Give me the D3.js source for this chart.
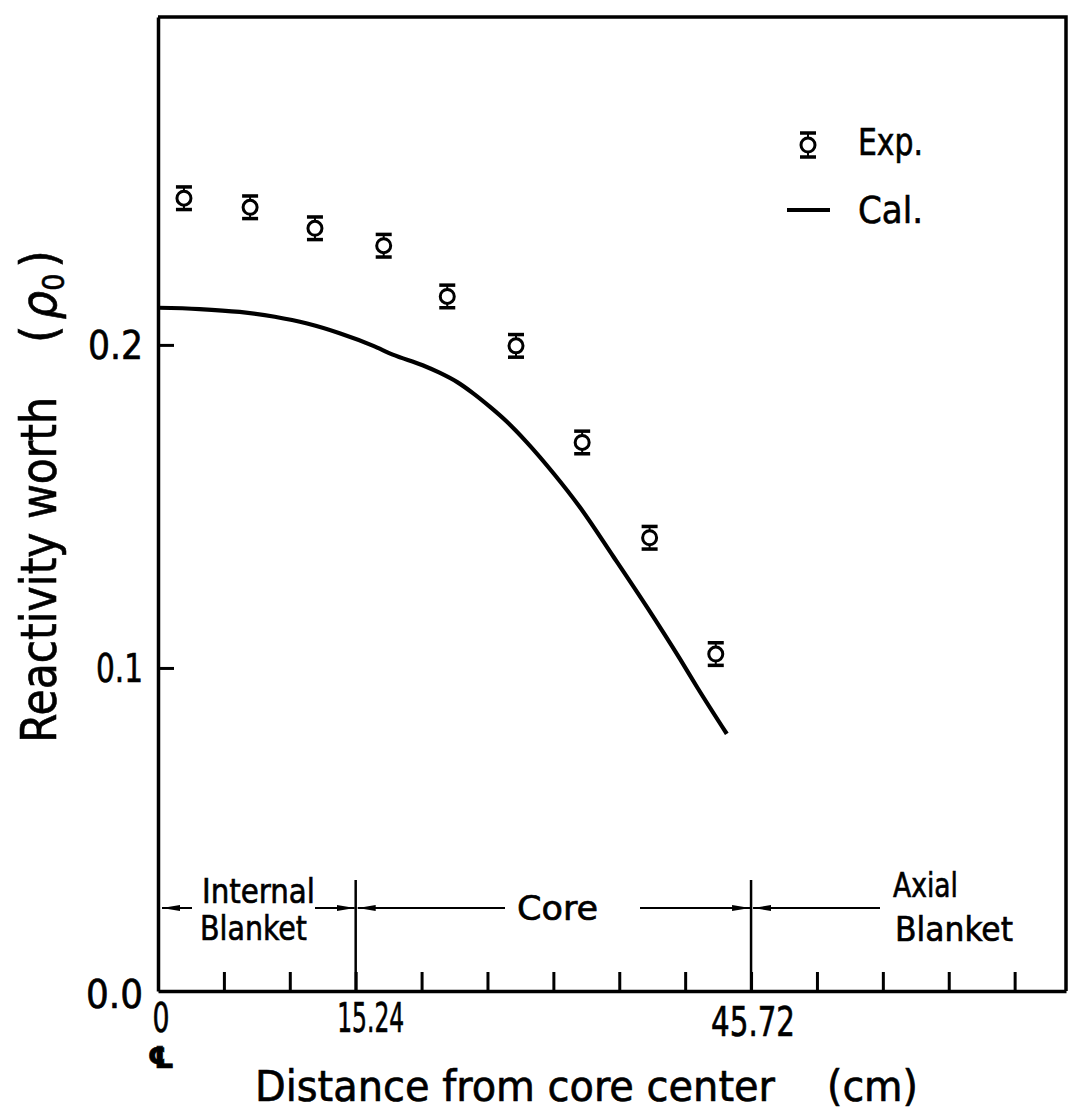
<!DOCTYPE html>
<html>
<head>
<meta charset="utf-8">
<script src="https://cdn.jsdelivr.net/npm/d3@7"></script>
<style>
  html, body { margin: 0; padding: 0; background: #fff; }
  svg { display: block; }
  text { font-family: "Liberation Sans Narrow", "DejaVu Sans Condensed", "Liberation Sans", sans-serif; fill: #000; stroke: #000; stroke-width: 0.6px; }
</style>
</head>
<body>
<script>
// Measured reactivity worth (Exp.) with error bars
const expX   = [2.0, 7.1, 12.1, 17.4, 22.3, 27.6, 32.7, 37.9, 43.0];
const expY   = [0.2454, 0.2426, 0.2361, 0.2307, 0.2150, 0.1997, 0.1698, 0.1403, 0.1043];
const expErr = [0.0035, 0.0035, 0.0035, 0.0035, 0.0035, 0.0035, 0.0035, 0.0035, 0.0035];

// Calculated reactivity worth (Cal.)
const calX = [0, 3.2, 6.3, 9.0, 11.5, 14.0, 16.6, 18.1, 20.4, 21.7, 23.1, 24.3, 25.6, 26.9, 28.4, 30.5, 32.5, 35.1, 37.7, 40.25, 41.6, 43.85];
const calY = [0.2115, 0.2111, 0.2102, 0.2087, 0.2066, 0.2036, 0.1997, 0.1970, 0.1937, 0.1914, 0.1884, 0.1850, 0.1808, 0.1762, 0.1700, 0.1602, 0.1499, 0.1345, 0.1188, 0.1027, 0.0938, 0.0796];

// Axis ticks and labels
const xMinorTicks = d3.range(0, 68, 5.08);
const xLabelValues = [0, 15.24, 45.72];
const xLabels = ["0", "15.24", "45.72"];
const yTickValues = [0.1, 0.2];
const yLabelValues = [0.0, 0.1, 0.2];
const yLabels = ["0.0", "0.1", "0.2"];

// Region boundaries along the axis
const regionBounds = [0, 15.24, 45.72];

const W = 1070, H = 1112;
const svg = d3.select("body").append("svg").attr("width", W).attr("height", H);

const x = d3.scaleLinear().domain([0, 70]).range([158, 1066]);
const y = d3.scaleLinear().domain([0, 0.3015]).range([991, 17]);

const ink = "#000";

// Frame: top and right edges
svg.append("path")
  .attr("d", `M${x(0)},${y(0.3015)} H${x(70)} V${y(0)}`)
  .attr("fill", "none").attr("stroke", ink).attr("stroke-width", 3.5);

// Bottom axis with inward minor ticks
const gx = svg.append("g").attr("transform", `translate(0,${y(0)})`)
  .call(d3.axisBottom(x).tickValues(xMinorTicks).tickSize(-19).tickSizeOuter(0).tickFormat(""));
gx.select(".domain").attr("stroke", ink).attr("stroke-width", 3.5);
gx.selectAll(".tick line").attr("stroke", ink).attr("stroke-width", 3);

// Left axis with inward ticks
const gy = svg.append("g").attr("transform", `translate(${x(0)},0)`)
  .call(d3.axisLeft(y).tickValues(yTickValues).tickSize(-16).tickSizeOuter(0).tickFormat(""));
gy.select(".domain").attr("stroke", ink).attr("stroke-width", 3.5);
gy.selectAll(".tick line").attr("stroke", ink).attr("stroke-width", 3);

// Y tick labels
const yLabLen = {"0.0": 57, "0.1": 47, "0.2": 55};
svg.append("g").selectAll("text").data(yLabelValues).join("text")
  .attr("x", 143)
  .attr("y", (d, i) => y(d) + (i === 0 ? 17 : 14))
  .attr("text-anchor", "end")
  .attr("font-size", 39)
  .attr("textLength", (d, i) => yLabLen[yLabels[i]])
  .attr("lengthAdjust", "spacingAndGlyphs")
  .text((d, i) => yLabels[i]);

// X tick labels
const xLabLen = [17, 67, 84];
const xLabShift = [3, 15, 2];
svg.append("g").selectAll("text").data(xLabelValues).join("text")
  .attr("x", (d, i) => x(d) + xLabShift[i])
  .attr("y", (d, i) => i === 2 ? 1036 : 1032)
  .attr("text-anchor", "middle")
  .attr("font-size", 40)
  .attr("textLength", (d, i) => xLabLen[i])
  .attr("lengthAdjust", "spacingAndGlyphs")
  .text((d, i) => xLabels[i]);

// Centre-line symbol under the origin
svg.append("text")
  .attr("x", x(0) + 3).attr("y", 1068)
  .attr("text-anchor", "middle")
  .attr("font-size", 30).attr("font-weight", "bold")
  .style("font-family", "'DejaVu Sans', sans-serif")
  .text("\u2104");

// Axis titles
svg.append("text")
  .attr("x", 255).attr("y", 1101)
  .attr("font-size", 42)
  .attr("textLength", 520).attr("lengthAdjust", "spacingAndGlyphs")
  .text("Distance from core center");
svg.append("text")
  .attr("x", 827).attr("y", 1101)
  .attr("font-size", 42)
  .attr("textLength", 91).attr("lengthAdjust", "spacingAndGlyphs")
  .text("(cm)");

const yTitle = svg.append("g").attr("transform", "translate(56,743) rotate(-90)");
yTitle.append("text")
  .attr("x", 0).attr("y", 0)
  .attr("font-size", 50)
  .attr("textLength", 346).attr("lengthAdjust", "spacingAndGlyphs")
  .text("Reactivity worth");
const rho = yTitle.append("text").attr("x", 400).attr("y", 0).attr("font-size", 50);
rho.append("tspan").text("(");
rho.append("tspan").attr("dx", 6).attr("font-style", "italic").text("\u03c1");
rho.append("tspan").attr("dy", 8).attr("font-size", 30).text("0");
rho.append("tspan").attr("dy", -8).attr("dx", 6).text(")");

// Region dividers at the blanket/core boundaries
svg.append("g").selectAll("line").data(regionBounds.slice(1)).join("line")
  .attr("x1", d => x(d)).attr("x2", d => x(d))
  .attr("y1", 880).attr("y2", y(0))
  .attr("stroke", ink).attr("stroke-width", 2.5);

// Arrowhead marker
svg.append("defs").append("marker")
  .attr("id", "head").attr("viewBox", "0 0 18 8")
  .attr("refX", 18).attr("refY", 4)
  .attr("markerWidth", 18).attr("markerHeight", 8)
  .attr("markerUnits", "userSpaceOnUse")
  .attr("orient", "auto")
  .append("path").attr("d", "M0,1 L18,4 L0,7 Z").attr("fill", ink);

const arrowY = 908;
const arrows = [
  {from: x(0) + 34, to: x(0) + 4},
  {from: 315, to: x(15.24) - 1},
  {from: 505, to: x(15.24) + 2},
  {from: 640, to: x(45.72) - 1},
  {from: 880, to: x(45.72) + 2}
];
svg.append("g").selectAll("line").data(arrows).join("line")
  .attr("x1", d => d.from).attr("x2", d => d.to)
  .attr("y1", arrowY).attr("y2", arrowY)
  .attr("stroke", ink).attr("stroke-width", 2)
  .attr("marker-end", "url(#head)");

// Region labels
const regionText = [
  {t: "Internal", x: 202, y: 903, len: 113},
  {t: "Blanket", x: 200, y: 940, len: 107},
  {t: "Core", x: 517, y: 920, len: 81},
  {t: "Axial", x: 893, y: 897, len: 65},
  {t: "Blanket", x: 895, y: 941, len: 118}
];
svg.append("g").selectAll("text").data(regionText).join("text")
  .attr("x", d => d.x).attr("y", d => d.y)
  .attr("font-size", 34)
  .attr("textLength", d => d.len).attr("lengthAdjust", "spacingAndGlyphs")
  .text(d => d.t);

// Calculated curve
const line = d3.line().x(d => x(d[0])).y(d => y(d[1])).curve(d3.curveMonotoneX);
svg.append("path")
  .datum(calX.map((v, i) => [v, calY[i]]))
  .attr("d", line)
  .attr("fill", "none").attr("stroke", ink).attr("stroke-width", 4.2)
  .attr("stroke-linejoin", "round");

// Experimental points with error bars
function drawMarker(g, cx, cy, ytop, ybot) {
  g.append("line").attr("x1", cx).attr("x2", cx).attr("y1", ytop).attr("y2", ybot)
    .attr("stroke", ink).attr("stroke-width", 2);
  g.append("line").attr("x1", cx - 8).attr("x2", cx + 8).attr("y1", ytop).attr("y2", ytop)
    .attr("stroke", ink).attr("stroke-width", 3.5);
  g.append("line").attr("x1", cx - 8).attr("x2", cx + 8).attr("y1", ybot).attr("y2", ybot)
    .attr("stroke", ink).attr("stroke-width", 3.5);
  g.append("circle").attr("cx", cx).attr("cy", cy).attr("r", 7)
    .attr("fill", "#fff").attr("stroke", ink).attr("stroke-width", 3);
}
const gExp = svg.append("g");
expX.forEach((v, i) => {
  drawMarker(gExp.append("g"), x(v), y(expY[i]), y(expY[i] + expErr[i]), y(expY[i] - expErr[i]));
});

// Legend
const gLeg = svg.append("g");
drawMarker(gLeg.append("g"), 808, 145, 133, 157);
gLeg.append("text").attr("x", 858).attr("y", 155).attr("font-size", 38)
  .attr("textLength", 65).attr("lengthAdjust", "spacingAndGlyphs").text("Exp.");
gLeg.append("line").attr("x1", 787).attr("x2", 830).attr("y1", 210).attr("y2", 210)
  .attr("stroke", ink).attr("stroke-width", 3.8);
gLeg.append("text").attr("x", 858).attr("y", 223).attr("font-size", 38)
  .attr("textLength", 65).attr("lengthAdjust", "spacingAndGlyphs").text("Cal.");
</script>
</body>
</html>
